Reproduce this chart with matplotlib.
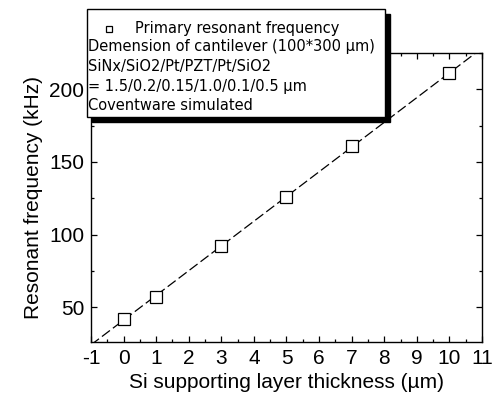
import numpy as np
import matplotlib
matplotlib.use("Agg")
import matplotlib.pyplot as plt
from matplotlib.patches import Rectangle
from matplotlib.lines import Line2D
from matplotlib.ticker import MultipleLocator

plt.rcParams['font.family'] = ['Liberation Sans', 'DejaVu Sans']
plt.rcParams['axes.unicode_minus'] = False

# data
thickness = [0, 1, 3, 5, 7, 10]          # Si supporting layer (um)
frequency = [42, 57, 92, 126, 161, 211]  # primary resonant frequency (kHz)

legend_lines = [
    "Demension of cantilever (100*300 \u00b5m)",
    "SiNx/SiO2/Pt/PZT/Pt/SiO2",
    "= 1.5/0.2/0.15/1.0/0.1/0.5 \u00b5m",
    "Coventware simulated",
]

W, H = 493, 405
fig = plt.figure(figsize=(W / 100, H / 100), dpi=100)
ax = fig.add_axes([91 / W, 1 - 342 / H, (482 - 91) / W, (342 - 53) / H])

# linear fit drawn as the dashed line
k, b = np.polyfit(thickness, frequency, 1)
xs = np.array([-1, 11])
ax.plot(xs, k * xs + b, color='black', lw=0.9, dashes=(8, 3))
ax.plot(thickness, frequency, 's', ms=8.5, mfc='white', mec='black', mew=0.9)

ax.set_xlim(-1, 11)
ax.set_ylim(26, 225)
ax.xaxis.set_major_locator(MultipleLocator(1))
ax.xaxis.set_minor_locator(MultipleLocator(0.5))
ax.yaxis.set_major_locator(MultipleLocator(50))
ax.yaxis.set_minor_locator(MultipleLocator(25))
ax.tick_params(which='both', direction='in', top=True, right=True, width=0.9)
ax.tick_params(which='major', length=4, labelsize=15, pad=5)
ax.tick_params(which='minor', length=2.5)
for s in ax.spines.values():
    s.set_linewidth(1.0)

ax.set_xlabel("Si supporting layer thickness (\u00b5m)", fontsize=15, labelpad=4)
ax.set_ylabel("Resonant frequency (kHz)", fontsize=15, labelpad=4)

# legend box with shadow, sits partly above the axes
x0, x1 = 87 / W, 385 / W
y_top, y_bot = 1 - 9 / H, 1 - 117 / H
fig.add_artist(Rectangle((x0 + 5 / W, y_bot - 5 / H), x1 - x0, y_top - y_bot,
                         transform=fig.transFigure, facecolor='black',
                         edgecolor='black', zorder=5))
fig.add_artist(Rectangle((x0, y_bot), x1 - x0, y_top - y_bot,
                         transform=fig.transFigure, facecolor='white',
                         edgecolor='black', lw=1.0, zorder=6))
fig.add_artist(Line2D([109 / W], [1 - 29 / H], transform=fig.transFigure,
                      marker='s', ms=4.5, mfc='white', mec='black', mew=0.9,
                      zorder=7))
box_font = ['DejaVu Sans']
fig.text(135 / W, 1 - 29 / H, "Primary resonant frequency", fontsize=10.5,
         family=box_font, va='center', ha='left', zorder=7)
for i, line in enumerate(legend_lines):
    fig.text(88 / W, 1 - (47 + 19.5 * i) / H, line, fontsize=10.5,
             family=box_font, va='center', ha='left', zorder=7)

fig.savefig("out.png", dpi=100)
